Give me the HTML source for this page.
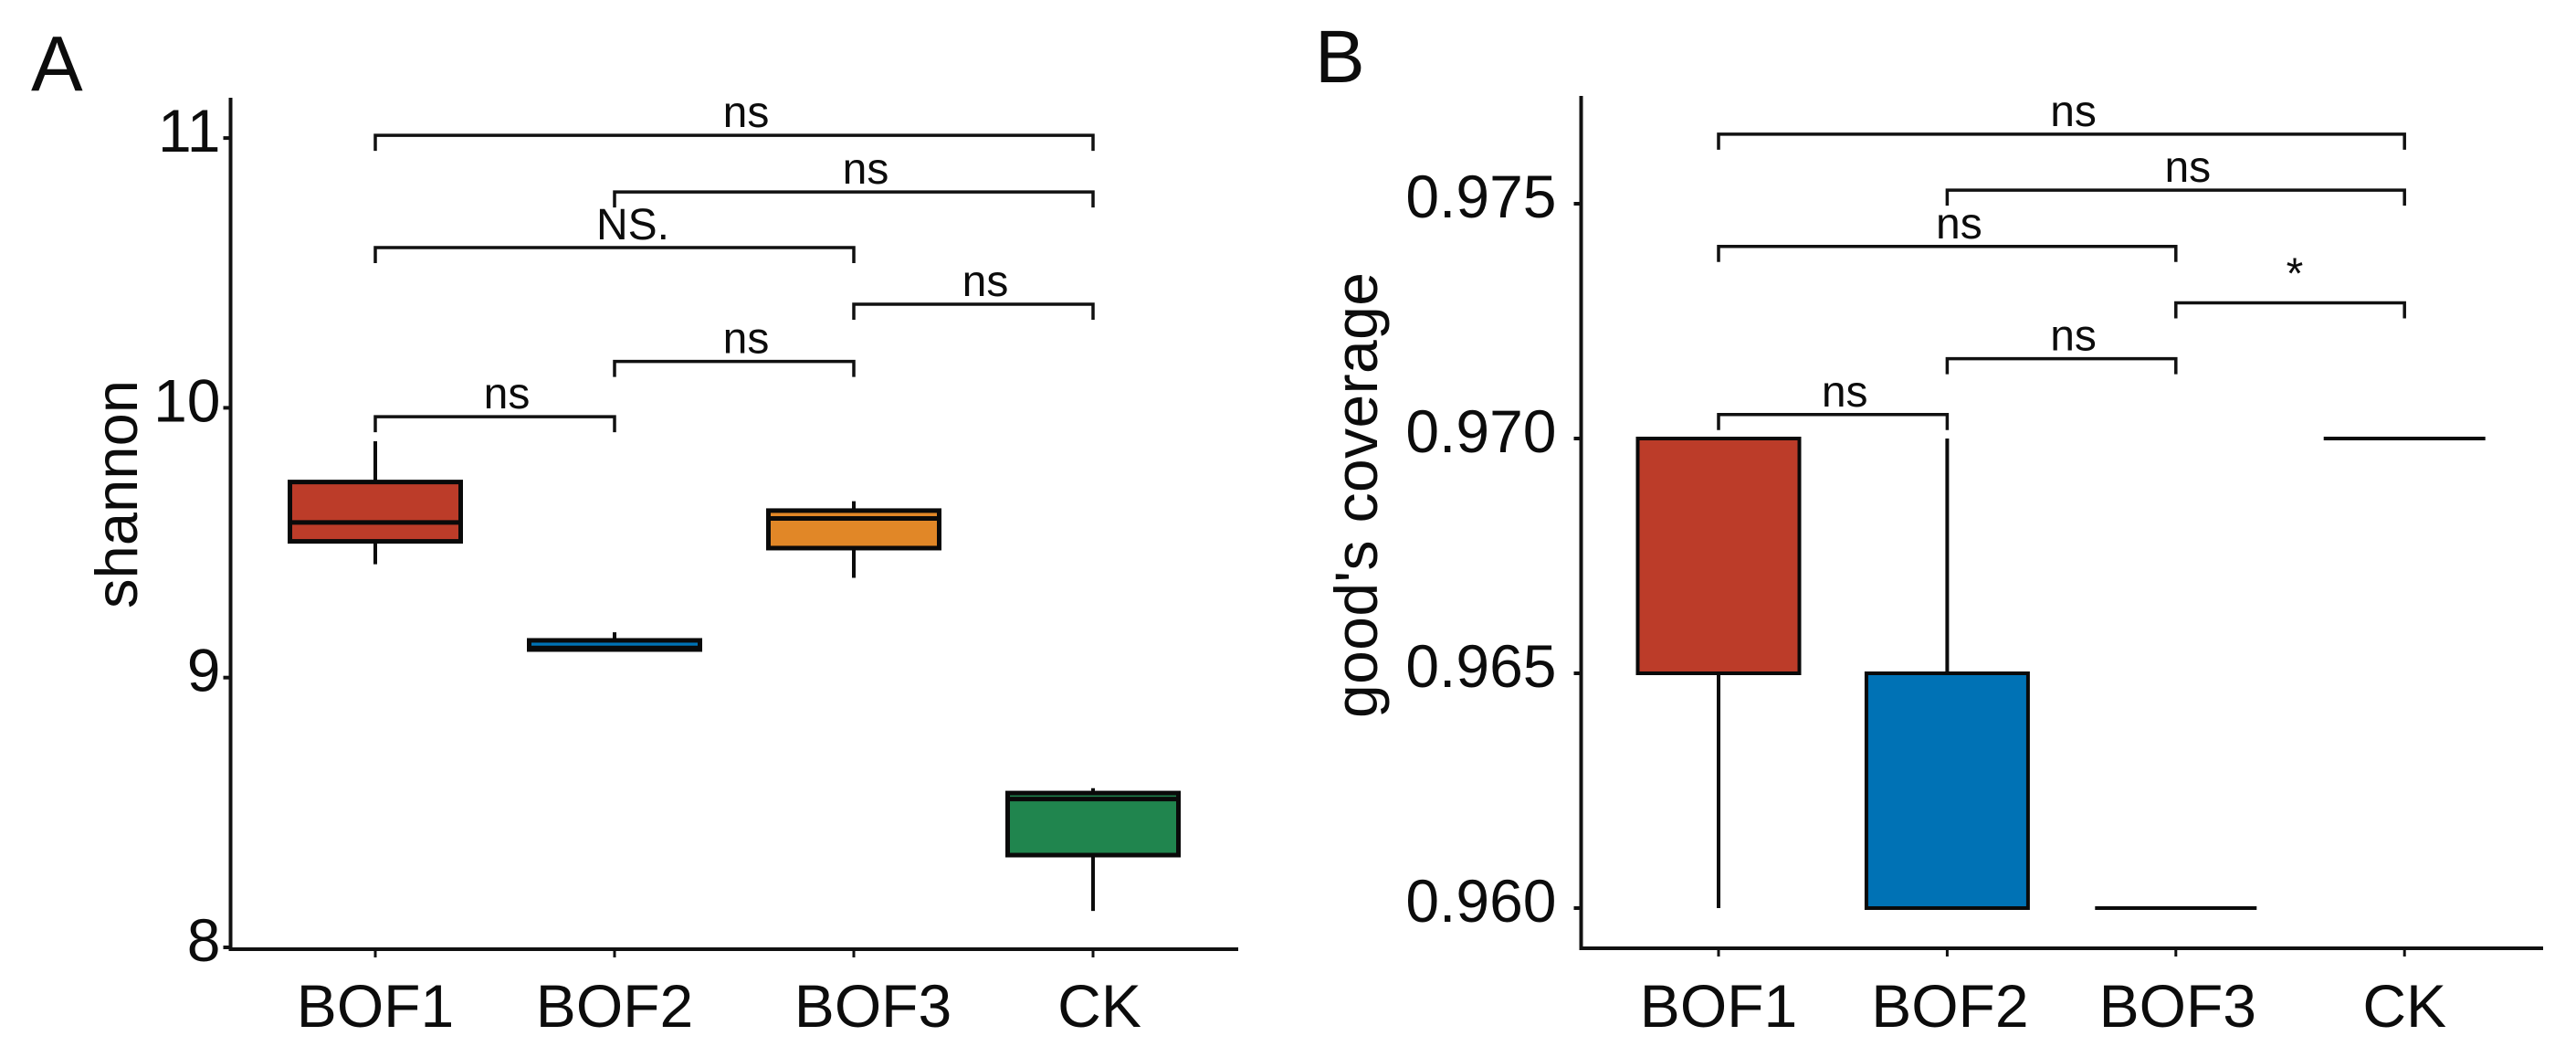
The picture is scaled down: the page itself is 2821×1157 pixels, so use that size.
<!DOCTYPE html>
<html>
<head>
<meta charset="utf-8">
<title>Shannon and Good's coverage boxplots</title>
<style>
html,body{margin:0;padding:0;background:#fff;width:2821px;height:1157px;overflow:hidden}
svg{display:block}
text{font-family:"Liberation Sans",sans-serif;fill:#0c0c0c}
</style>
</head>
<body>
<svg id="fig" xmlns="http://www.w3.org/2000/svg" width="2821" height="1157" viewBox="0 0 2821 1157"></svg>
<script>
// Shared
const categories = ['BOF1', 'BOF2', 'BOF3', 'CK'];
const boxColors = ['#BC3C29', '#0072B5', '#E18727', '#20854E'];

// Panel A: shannon
const shannonTicks = [8, 9, 10, 11];
const shannonTickLabels = ['8', '9', '10', '11'];
const shannonWhiskerLow = [9.42, 9.10, 9.37, 8.135];
const shannonQ1 = [9.505, 9.104, 9.48, 8.342];
const shannonMedian = [9.575, 9.11, 9.59, 8.55];
const shannonQ3 = [9.725, 9.138, 9.619, 8.572];
const shannonWhiskerHigh = [9.876, 9.168, 9.654, 8.59];
const shannonBracketFrom = [0, 1, 0, 2, 1, 0];
const shannonBracketTo = [3, 3, 2, 3, 2, 1];
const shannonBracketLevel = [11.01, 10.80, 10.594, 10.384, 10.172, 9.967];
const shannonBracketLabels = ['ns', 'ns', 'NS.', 'ns', 'ns', 'ns'];

// Panel B: good's coverage
const coverageTicks = [0.960, 0.965, 0.970, 0.975];
const coverageTickLabels = ['0.960', '0.965', '0.970', '0.975'];
const coverageWhiskerLow = [0.960, 0.960, 0.960, 0.970];
const coverageQ1 = [0.965, 0.960, 0.960, 0.970];
const coverageMedian = [0.970, 0.960, 0.960, 0.970];
const coverageQ3 = [0.970, 0.965, 0.960, 0.970];
const coverageWhiskerHigh = [0.970, 0.970, 0.960, 0.970];
const coverageBracketFrom = [0, 1, 0, 2, 1, 0];
const coverageBracketTo = [3, 3, 2, 3, 2, 1];
const coverageBracketLevel = [0.97648, 0.97529, 0.97409, 0.97289, 0.9717, 0.97051];
const coverageBracketLabels = ['ns', 'ns', 'ns', '*', 'ns', 'ns'];

const NS = 'http://www.w3.org/2000/svg';
const fig = document.getElementById('fig');

function make(tag, attrs, parent) {
  const el = document.createElementNS(NS, tag);
  for (const k in attrs) el.setAttribute(k, attrs[k]);
  parent.appendChild(el);
  return el;
}

function labelShift(label) {
  if (label === 'NS.') return 20;
  if (label === '*') return 5;
  return 13;
}

function drawPanel(cfg) {
  const g = make('g', {}, fig);
  
  

  const xPos = i => cfg.firstX + i * cfg.stepX;
  const yPos = v => cfg.tickBaseY - (v - cfg.ticks[0]) / (cfg.ticks[1] - cfg.ticks[0]) * cfg.tickStepY;

  // panel letter
  const letter = make('text', {x: cfg.letterX, y: cfg.letterY, 'font-size': cfg.letterSize}, g);
  letter.textContent = cfg.letter;
  
  

  // y-axis title
  const title = make('text', {
    x: 0, y: 0, 'font-size': cfg.titleSize, 'text-anchor': 'middle',
    textLength: cfg.titleLength, lengthAdjust: 'spacing',
    transform: 'translate(' + cfg.titleX + ',' + cfg.titleY + ') rotate(-90)'
  }, g);
  title.textContent = cfg.title;
  
  

  // whiskers and boxes
  categories.forEach((cat, i) => {
    const x = xPos(i);
    const w = make('line', {
      x1: x, x2: x, y1: yPos(cfg.high[i]), y2: yPos(cfg.low[i]),
      stroke: '#0c0c0c', 'stroke-width': 4
    }, g);
    
    

    const top = yPos(cfg.q3[i]);
    const bottom = yPos(cfg.q1[i]);
    const b = make('rect', {
      x: x - cfg.boxW / 2, y: top, width: cfg.boxW, height: bottom - top,
      fill: boxColors[i], stroke: '#0a0a0a', 'stroke-width': cfg.boxStroke
    }, g);
    
    

    const m = make('line', {
      x1: x - cfg.boxW / 2, x2: x + cfg.boxW / 2, y1: yPos(cfg.median[i]), y2: yPos(cfg.median[i]),
      stroke: '#0a0a0a', 'stroke-width': cfg.boxStroke
    }, g);
    
    
  });

  // axes
  const yAxis = make('line', {x1: cfg.axisX, x2: cfg.axisX, y1: cfg.axisTop, y2: cfg.axisY + 2, stroke: '#111', 'stroke-width': 4}, g);
  
  
  const xAxis = make('line', {x1: cfg.axisX, x2: cfg.axisRight, y1: cfg.axisY, y2: cfg.axisY, stroke: '#111', 'stroke-width': 4}, g);
  
  

  // y ticks
  cfg.ticks.forEach((t, i) => {
    const y = yPos(t);
    const tick = make('line', {x1: cfg.axisX - 8, x2: cfg.axisX, y1: y, y2: y, stroke: '#111', 'stroke-width': 4}, g);
    
    
    const lab = make('text', {x: cfg.axisX - cfg.tickLabelGap, y: y + 15, 'font-size': 66, 'text-anchor': 'end'}, g);
    lab.textContent = cfg.tickLabels[i];
    
    
  });

  // x ticks
  categories.forEach((cat, i) => {
    const x = xPos(i);
    const tick = make('line', {x1: x, x2: x, y1: cfg.axisY, y2: cfg.axisY + 9, stroke: '#111', 'stroke-width': 3}, g);
    
    
    const lab = make('text', {x: x + cfg.categoryShift(i), y: 1124, 'font-size': 66, 'text-anchor': 'middle'}, g);
    lab.textContent = cat;
    
    
  });

  // significance brackets
  cfg.bracketLevel.forEach((level, i) => {
    const x1 = xPos(cfg.bracketFrom[i]);
    const x2 = xPos(cfg.bracketTo[i]);
    const y = yPos(level);
    const p = make('path', {
      d: 'M' + x1 + ' ' + (y + 17) + 'V' + y + 'H' + x2 + 'V' + (y + 17),
      fill: 'none', stroke: '#111', 'stroke-width': 3.5
    }, g);
    
    
    const label = cfg.bracketLabels[i];
    const t = make('text', {
      x: (x1 + x2) / 2 + labelShift(label), y: y - (label === '*' ? 16 : 9),
      'font-size': 48, 'text-anchor': 'middle'
    }, g);
    t.textContent = label;
    
    
  });
}

drawPanel({
  name: 'shannon', letter: 'A', letterX: 34, letterY: 99, letterSize: 85,
  title: 'shannon', titleX: 150, titleY: 541, titleSize: 65, titleLength: 250,
  ticks: shannonTicks, tickLabels: shannonTickLabels, tickLabelGap: 11,
  low: shannonWhiskerLow, q1: shannonQ1, median: shannonMedian, q3: shannonQ3, high: shannonWhiskerHigh,
  bracketFrom: shannonBracketFrom, bracketTo: shannonBracketTo,
  bracketLevel: shannonBracketLevel, bracketLabels: shannonBracketLabels,
  firstX: 411, stepX: 262, boxW: 187, boxStroke: 5,
  categoryShift: i => (i === 2 ? 21 : i === 3 ? 7 : 0),
  tickBaseY: 1037, tickStepY: 295.3,
  axisX: 252.5, axisTop: 107, axisY: 1039, axisRight: 1356
});

drawPanel({
  name: 'coverage', letter: 'B', letterX: 1440, letterY: 90, letterSize: 82,
  title: "good's coverage", titleX: 1508, titleY: 542, titleSize: 66, titleLength: 488,
  ticks: coverageTicks, tickLabels: coverageTickLabels, tickLabelGap: 27,
  low: coverageWhiskerLow, q1: coverageQ1, median: coverageMedian, q3: coverageQ3, high: coverageWhiskerHigh,
  bracketFrom: coverageBracketFrom, bracketTo: coverageBracketTo,
  bracketLevel: coverageBracketLevel, bracketLabels: coverageBracketLabels,
  firstX: 1882, stepX: 250.4, boxW: 177, boxStroke: 4,
  categoryShift: i => (i === 0 ? 0 : i === 1 ? 3 : i === 2 ? 2 : 0),
  tickBaseY: 994, tickStepY: 257,
  axisX: 1731.5, axisTop: 105, axisY: 1038, axisRight: 2785
});
</script>
</body>
</html>
